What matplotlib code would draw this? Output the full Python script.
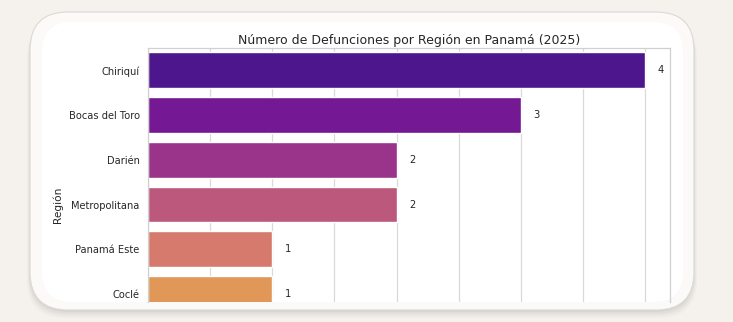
import matplotlib
matplotlib.use("Agg")
import matplotlib.pyplot as plt
from matplotlib.patches import FancyBboxPatch
import seaborn as sns
import pandas as pd

regions = ["Chiriquí", "Bocas del Toro", "Darién", "Metropolitana", "Panamá Este", "Coclé"]
deaths = [4, 3, 2, 2, 1, 1]
title = "Número de Defunciones por Región en Panamá (2025)"

sns.set_theme(style="whitegrid")
plt.rcParams['font.family'] = ['DejaVu Sans']

W, H = 733, 322
fig = plt.figure(figsize=(W / 100, H / 100), dpi=100)
fig.patch.set_facecolor("#f5f2ee")

def px_box(x0, y0, x1, y1, r, **kw):
    # pixel coords (top-left origin) -> inches
    return FancyBboxPatch(((x0 + r) / 100, (H - y1 + r) / 100),
                          (x1 - x0 - 2 * r) / 100, (y1 - y0 - 2 * r) / 100,
                          boxstyle=f"round,pad={r/100}",
                          transform=fig.dpi_scale_trans, **kw)

# shadow
for i, a in enumerate([0.035, 0.03, 0.025, 0.02]):
    d = 2 + i * 2
    fig.patches.append(px_box(30 - i, 12 + d, 694 + i, 310 + d, 38, facecolor="#000000",
                              edgecolor="none", alpha=a, zorder=0))
fig.patches.append(px_box(30, 12, 694, 310, 38, facecolor="#fbfaf8",
                          edgecolor="#dcd9d5", linewidth=0.8, zorder=1))
fig.patches.append(px_box(42, 22, 683, 302, 30, facecolor="#ffffff",
                          edgecolor="none", zorder=2))

ax_left, ax_right, ax_top, ax_bot = 148, 670, 48, 302
ax = fig.add_axes([ax_left / W, (H - ax_bot) / H, (ax_right - ax_left) / W, (ax_bot - ax_top) / H])
ax.set_zorder(3)
ax.patch.set_alpha(0)

# palette spread as for the full (7-region) chart, of which 6 are visible
pal = sns.color_palette("plasma", 7)[:len(regions)]
df = pd.DataFrame({"Región": regions, "Defunciones": deaths})
sns.barplot(data=df, y="Región", x="Defunciones", hue="Región", palette=pal,
            legend=False, ax=ax, orient="h")

for c in ax.containers:
    ax.bar_label(c, padding=9, fontsize=7.1, color="#262626")

ax.set_xlim(0, 4.2)
ax.set_ylim(5.18, -0.5)
ax.set_xticks([i * 0.5 for i in range(9)])
ax.tick_params(axis="x", labelbottom=False, length=0)
ax.tick_params(axis="y", labelsize=7.1, pad=6, length=0, colors="#262626")
ax.grid(axis="x", color="#d9d9d9", linewidth=0.9)
ax.grid(axis="y", visible=False)
for s in ["left", "top", "right"]:
    ax.spines[s].set_color("#d0d0d0")
    ax.spines[s].set_linewidth(0.9)
ax.spines["bottom"].set_visible(False)
ax.set_xlabel("")
ax.set_ylabel("Región", fontsize=7.6, color="#262626")
ax.yaxis.set_label_coords(-0.162, 1 - (205 - ax_top) / (ax_bot - ax_top))
ax.set_title(title, fontsize=9, color="#262626", pad=3)

fig.savefig("out.png", dpi=100, facecolor=fig.get_facecolor())
